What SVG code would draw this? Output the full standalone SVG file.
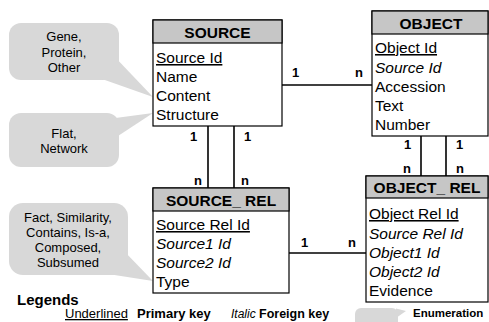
<svg xmlns="http://www.w3.org/2000/svg" width="489" height="322" viewBox="0 0 489 322">
<style>
text{font-family:"Liberation Sans",Arial,sans-serif;fill:#000}
.box{fill:#fff;stroke:#000;stroke-width:1.2}
.hdr{fill:#c6c6c6;stroke:#000;stroke-width:1.2}
.title{font-size:15.5px;font-weight:bold;text-anchor:middle}
.row{font-size:15.5px}
.pk{text-decoration:underline}
.fk{font-style:italic}
.card{font-size:13px;font-weight:bold}
.conn{stroke:#000;stroke-width:1.6;fill:none}
.callout{fill:#d8d8d8}
.ct{font-size:13px;text-anchor:middle}
.leg{font-size:13px}
</style>
<g id="callouts">
<g id="callout-content">
<rect class="callout" x="9" y="23" width="110" height="57" rx="12"/>
<polygon class="callout" points="112,54 153,97 102,79"/>
<text class="ct" x="64" y="41">Gene,</text>
<text class="ct" x="64" y="56.5">Protein,</text>
<text class="ct" x="64" y="72">Other</text>
</g>
<g id="callout-structure">
<rect class="callout" x="9" y="113" width="110" height="54" rx="12"/>
<polygon class="callout" points="108,119 153,113 118,136"/>
<text class="ct" x="64" y="138">Flat,</text>
<text class="ct" x="64" y="153">Network</text>
</g>
<g id="callout-type">
<rect class="callout" x="9" y="203" width="119" height="72" rx="14"/>
<polygon class="callout" points="121,248 153,281 108,274"/>
<text class="ct" x="68" y="222">Fact, Similarity,</text>
<text class="ct" x="68" y="237">Contains, Is-a,</text>
<text class="ct" x="68" y="252">Composed,</text>
<text class="ct" x="68" y="267">Subsumed</text>
</g>
</g>
<g id="connectors">
<line class="conn" x1="282" y1="85" x2="372" y2="85"/>
<line class="conn" x1="208" y1="126" x2="208" y2="188"/>
<line class="conn" x1="234" y1="126" x2="234" y2="188"/>
<line class="conn" x1="421" y1="136" x2="421" y2="176"/>
<line class="conn" x1="446" y1="136" x2="446" y2="176"/>
<line class="conn" x1="289" y1="253" x2="366" y2="253"/>
<text class="card" x="292" y="77">1</text>
<text class="card" x="355" y="77">n</text>
<text class="card" x="190" y="141">1</text>
<text class="card" x="244" y="141">1</text>
<text class="card" x="194" y="185">n</text>
<text class="card" x="241" y="185">n</text>
<text class="card" x="404" y="149">1</text>
<text class="card" x="456" y="149">1</text>
<text class="card" x="403" y="173">n</text>
<text class="card" x="456" y="173">n</text>
<text class="card" x="301" y="247">1</text>
<text class="card" x="348" y="247">n</text>
</g>
<g id="source">
<rect class="box" x="153" y="20" width="129" height="106"/>
<rect class="hdr" x="153" y="20" width="129" height="23"/>
<text class="title" x="217.5" y="38">SOURCE</text>
<text class="row pk" x="156" y="63">Source Id</text>
<text class="row" x="156" y="82">Name</text>
<text class="row" x="156" y="101">Content</text>
<text class="row" x="156" y="120">Structure</text>
</g>
<g id="object">
<rect class="box" x="372" y="11" width="116" height="125"/>
<rect class="hdr" x="372" y="11" width="116" height="23"/>
<text class="title" x="431" y="29">OBJECT</text>
<text class="row pk" x="375" y="53">Object Id</text>
<text class="row fk" x="375" y="72.5">Source Id</text>
<text class="row" x="375" y="92">Accession</text>
<text class="row" x="375" y="111">Text</text>
<text class="row" x="375" y="130">Number</text>
</g>
<g id="source_rel">
<rect class="box" x="153" y="188" width="136" height="105"/>
<rect class="hdr" x="153" y="188" width="136" height="23"/>
<text class="title" x="221" y="206">SOURCE_ REL</text>
<text class="row pk" x="156" y="230">Source Rel Id</text>
<text class="row fk" x="156" y="249">Source1 Id</text>
<text class="row fk" x="156" y="268">Source2 Id</text>
<text class="row" x="156" y="287">Type</text>
</g>
<g id="object_rel">
<rect class="box" x="366" y="176" width="122" height="126"/>
<rect class="hdr" x="366" y="176" width="122" height="22"/>
<text class="title" x="427" y="193">OBJECT_ REL</text>
<text class="row pk" x="369" y="219">Object Rel Id</text>
<text class="row fk" x="369" y="238.5">Source Rel Id</text>
<text class="row fk" x="369" y="257.5">Object1 Id</text>
<text class="row fk" x="369" y="276.5">Object2 Id</text>
<text class="row" x="369" y="296">Evidence</text>
</g>
<g id="legend">
<text x="17" y="305" style="font-size:15px;font-weight:bold">Legends</text>
<text class="leg pk" x="65" y="318">Underlined</text>
<text class="leg" x="137" y="318" font-weight="bold">Primary key</text>
<text class="fk" x="231" y="318" style="font-size:12px">Italic</text>
<text x="259" y="318" style="font-size:12.5px;font-weight:bold">Foreign key</text>
<rect class="callout" x="355" y="308" width="43" height="22" rx="6"/>
<polygon class="callout" points="396,308.5 406,311 396,318"/>
<text x="413" y="317" style="font-size:11.5px;font-weight:bold">Enumeration</text>
</g>
</svg>
